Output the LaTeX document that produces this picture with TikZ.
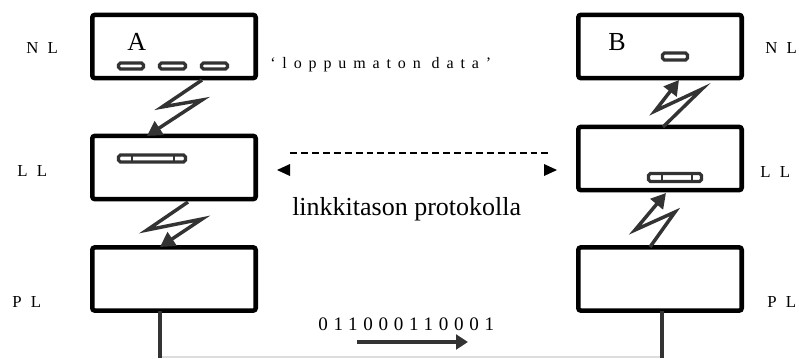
\documentclass[tikz,border=0pt]{standalone}
\usepackage{fontspec}
\setmainfont{Liberation Serif}
\newfontfamily\lblfont[LetterSpace=30]{Liberation Serif}
\newfontfamily\qfont[LetterSpace=43]{Liberation Serif}
\newfontfamily\binfont[LetterSpace=30]{Liberation Serif}
\usetikzlibrary{arrows.meta}
\definecolor{dgray}{HTML}{333333}
\definecolor{lgray}{HTML}{DDDDDD}
\tikzset{
  layerbox/.style={draw=black, line width=3.4pt, rounded corners=2pt, minimum width=122.6pt, minimum height=47.5pt, inner sep=0pt},
  packet/.style={draw=dgray, line width=2.4pt, rounded corners=1.4pt, fill=white},
  zig/.style={draw=dgray, line width=2.6pt, line join=miter, -{Triangle[length=11pt,width=12pt]}},
  lbl/.style={inner sep=0pt, anchor=base west, font=\lblfont\fontsize{12.6}{14}\selectfont},
  big/.style={inner sep=0pt, anchor=base west, font=\fontsize{19.5}{22}\selectfont},
  tri/.style={fill=black, draw=none}
}
\begin{document}
\begin{tikzpicture}[x=0.75pt,y=-0.75pt]
\useasboundingbox (0,0) rectangle (799,358);
% boxes
\node[layerbox] (anl) at (174,46.5) {};
\node[layerbox] (all) at (174,167.5) {};
\node[layerbox] (apl) at (174,279) {};
\node[layerbox] (bnl) at (660,46.5) {};
\node[layerbox] (bll) at (660,158.5) {};
\node[layerbox] (bpl) at (660,279) {};
% letters
\node[big] (la) at (127,50) {A};
\node[big] (lb) at (608,50) {B};
% layer labels
\node[lbl] (nl1) at (26,53) {N L};
\node[lbl] (ll1) at (17,176) {L L};
\node[lbl] (pl1) at (12,307) {P L};
\node[lbl] (nl2) at (765,53) {N L};
\node[lbl] (ll2) at (760,177) {L L};
\node[lbl] (pl2) at (767,307) {P L};
% packets
\draw[packet] (118.5,63) rectangle (143.5,69);
\draw[packet] (159.5,63) rectangle (185.5,69);
\draw[packet] (201.5,63) rectangle (227.5,69);
\draw[packet] (118.5,155) rectangle (185.5,162);
\draw[dgray, line width=1.8pt] (132,155) -- (132,162) (174,155) -- (174,162);
\draw[packet] (662.5,53) rectangle (687.5,60);
\draw[packet] (648.5,173.5) rectangle (701.5,181.5);
\draw[dgray, line width=1.8pt] (662,173.5) -- (662,181.5) (692,173.5) -- (692,181.5);
% data label
\node[inner sep=0pt, anchor=base west, font=\qfont\fontsize{12}{14}\selectfont] (data) at (270,68) {‘loppumaton data’};
% zigzags
\coordinate (z1a) at (202,80);
\coordinate (z1b) at (162,107);
\coordinate (z1c) at (202,100);
\coordinate (z1d) at (147,136);
\draw[zig] (z1a) -- (z1b) -- (z1c) -- (z1d);
\coordinate (z2a) at (188,202);
\coordinate (z2b) at (147,230);
\coordinate (z2c) at (202,219);
\coordinate (z2d) at (160,247);
\draw[zig] (z2a) -- (z2b) -- (z2c) -- (z2d);
\coordinate (z3a) at (650,247);
\coordinate (z3b) at (675,212);
\coordinate (z3c) at (635,230);
\coordinate (z3d) at (666,193);
\draw[zig] (z3a) -- (z3b) -- (z3c) -- (z3d);
\coordinate (z4a) at (663,127);
\coordinate (z4b) at (702,89);
\coordinate (z4c) at (655,111);
\coordinate (z4d) at (679,80);
\draw[zig] (z4a) -- (z4b) -- (z4c) -- (z4d);
% protocol
\coordinate (d1) at (290,153);
\coordinate (d2) at (550,153);
\draw[black, line width=1.2pt, dash pattern=on 5.2pt off 3pt] (d1) -- (d2);
\fill[tri] (277,170) -- (290,164) -- (290,176) -- cycle;
\fill[tri] (557,170) -- (544,164) -- (544,176) -- cycle;
\node[big] (proto) at (292,215) {linkkitason protokolla};
% physical
\coordinate (pa) at (160,311);
\coordinate (pb) at (662,311);
\coordinate (pa2) at (160,358);
\coordinate (pb2) at (662,358);
\draw[lgray, line width=0.8pt] (160,357) -- (662,357);
\draw[dgray, line width=2.3pt] (pa) -- (pa2);
\draw[dgray, line width=2.3pt] (pb) -- (pb2);
\node[inner sep=0pt, anchor=base west, font=\binfont\fontsize{14.3}{16}\selectfont] (bits) at (318,330) {011000110001};
\coordinate (ar1) at (357,342);
\coordinate (ar2) at (468,342);
\draw[dgray, line width=2.6pt, -{Triangle[length=9pt,width=11pt]}] (ar1) -- (ar2);
\end{tikzpicture}
\end{document}
